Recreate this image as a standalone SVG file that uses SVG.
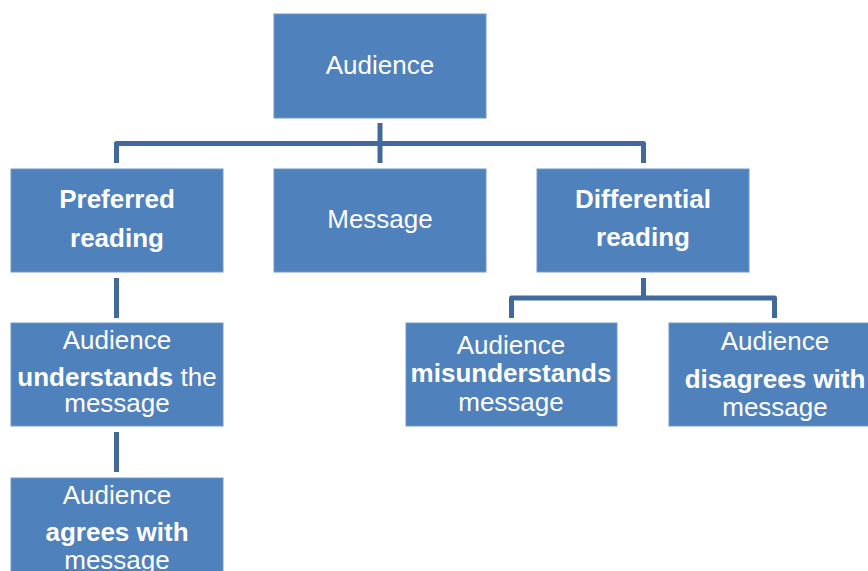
<svg xmlns="http://www.w3.org/2000/svg" width="868" height="571" viewBox="0 0 868 571">
<style>
.box{fill:#4F81BD;stroke:#6F98CA;stroke-width:1}
.t{font-family:"Liberation Sans",Arial,sans-serif;font-size:26px;fill:#FFFFFF;text-anchor:middle}
.b{font-weight:bold}
.c{fill:none;stroke:#41699B;stroke-width:5;stroke-linejoin:round}
</style>
<rect width="868" height="571" fill="#FFFFFF"/>
<g id="connectors">
<path class="c" d="M380,123 V163"/>
<path class="c" d="M116.5,163 V143.5 H643.5 V163"/>
<path class="c" d="M116.5,278 V318"/>
<path class="c" d="M116.5,432 V472"/>
<path class="c" d="M643.5,278 V298"/>
<path class="c" d="M511.5,318 V298 H774.5 V318"/>
</g>
<g id="audience">
<rect class="box" x="274" y="14" width="212" height="104"/>
<text class="t" x="380" y="74">Audience</text>
</g>
<g id="preferred">
<rect class="box" x="11" y="169" width="212" height="103"/>
<text class="t b" x="117" y="208">Preferred</text>
<text class="t b" x="117" y="247">reading</text>
</g>
<g id="message">
<rect class="box" x="274" y="169" width="212" height="103"/>
<text class="t" x="380" y="228">Message</text>
</g>
<g id="differential">
<rect class="box" x="537" y="169" width="212" height="103"/>
<text class="t b" x="643" y="208">Differential</text>
<text class="t b" x="643" y="246">reading</text>
</g>
<g id="understands">
<rect class="box" x="11" y="323" width="212" height="103"/>
<text class="t" x="117" y="349">Audience</text>
<text class="t" x="117" y="386"><tspan class="b">understands</tspan> the</text>
<text class="t" x="117" y="412">message</text>
</g>
<g id="misunderstands">
<rect class="box" x="406" y="323" width="211" height="103"/>
<text class="t" x="511" y="354">Audience</text>
<text class="t b" x="511" y="382">misunderstands</text>
<text class="t" x="511" y="411">message</text>
</g>
<g id="disagrees">
<rect class="box" x="669" y="323" width="212" height="103"/>
<text class="t" x="775" y="350">Audience</text>
<text class="t b" x="775" y="388">disagrees with</text>
<text class="t" x="775" y="416">message</text>
</g>
<g id="agrees">
<rect class="box" x="11" y="478" width="212" height="103"/>
<text class="t" x="117" y="504">Audience</text>
<text class="t b" x="117" y="541">agrees with</text>
<text class="t" x="117" y="569">message</text>
</g>
</svg>
